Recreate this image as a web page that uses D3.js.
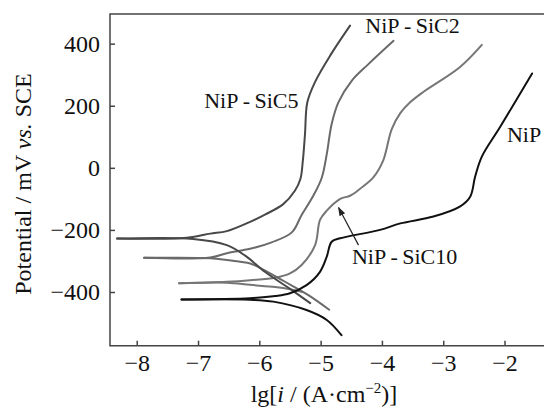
<!DOCTYPE html>
<html>
<head>
<meta charset="utf-8">
<script src="https://cdn.jsdelivr.net/npm/d3@7"></script>
<style>
  body { margin: 0; background: #fff; }
  svg { display: block; font-family: "Liberation Serif", "Times New Roman", serif; }
</style>
</head>
<body>
<svg id="chart"></svg>
<script>
// polarization curves, [lg i, E (mV)]
var nipAnodic = [[-7.27, -424], [-6.15, -420], [-5.74, -413], [-5.50, -404], [-5.23, -378], [-5.01, -335],
    [-4.90, -286], [-4.82, -238], [-4.68, -227], [-4.03, -200], [-3.70, -179], [-3.16, -157], [-2.73, -125],
    [-2.56, -93], [-2.48, -29], [-2.37, 36], [-2.07, 132], [-1.55, 304]]
var nipCathodic = [[-7.27, -424], [-6.15, -425], [-5.77, -431], [-5.23, -458], [-4.90, -490], [-4.66, -539]]

var sic5Anodic = [[-8.32, -228], [-7.18, -225], [-6.80, -212], [-6.53, -204], [-6.15, -174], [-5.90, -150],
    [-5.61, -117], [-5.42, -74], [-5.33, -36], [-5.29, 23], [-5.255, 109], [-5.217, 211], [-5.09, 277],
    [-4.84, 363], [-4.52, 458]]
var sic5Cathodic = [[-8.32, -228], [-7.08, -229], [-6.53, -249], [-6.23, -283], [-5.91, -335], [-5.47, -394],
    [-5.17, -436]]

var sic2Anodic = [[-7.88, -290], [-6.80, -289], [-6.53, -275], [-6.15, -261], [-5.80, -240], [-5.47, -208],
    [-5.31, -152], [-5.12, -90], [-4.98, -31], [-4.90, 44], [-4.82, 141], [-4.71, 211], [-4.49, 281],
    [-4.22, 334], [-3.81, 409]]
var sic2Cathodic = [[-7.88, -290], [-6.80, -291], [-6.53, -297], [-6.15, -308], [-6.02, -319], [-5.58, -367],
    [-5.20, -410], [-4.86, -457]]

var sic10Anodic = [[-7.31, -372], [-6.53, -367], [-6.15, -362], [-5.74, -354], [-5.50, -340], [-5.31, -313],
    [-5.09, -249], [-5.01, -168], [-4.90, -138], [-4.68, -100], [-4.52, -90], [-4.36, -68], [-4.14, -31],
    [-3.98, 23], [-3.84, 125], [-3.70, 176], [-3.54, 211], [-3.32, 245], [-2.73, 324], [-2.37, 396]]
var sic10Cathodic = [[-7.31, -372], [-6.53, -370], [-6.15, -377], [-5.74, -384], [-5.50, -391], [-5.30, -400]]

var xTicks = [-8, -7, -6, -5, -4, -3, -2]
var yTicks = [-400, -200, 0, 200, 400]

var series = [
    { name: "NiP-SiC10", branches: [sic10Anodic, sic10Cathodic], color: "#767676" },
    { name: "NiP-SiC2", branches: [sic2Anodic, sic2Cathodic], color: "#6a6a6a" },
    { name: "NiP-SiC5", branches: [sic5Anodic, sic5Cathodic], color: "#484848" },
    { name: "NiP", branches: [nipAnodic, nipCathodic], color: "#111111" }
]

var width = 544,
    height = 409
var plotLeft = 110, plotTop = 14, plotRight = 544, plotBottom = 345.7

var svg = d3.select("#chart").attr("width", width).attr("height", height)

var x = d3.scaleLinear().domain([-8.436, -1.356]).range([plotLeft, plotRight])
var y = d3.scaleLinear().domain([-573, 495.5]).range([plotBottom, plotTop])

// 曲线
var line = d3.line()
    .x(function (d) { return x(d[0]) })
    .y(function (d) { return y(d[1]) })
    .curve(d3.curveCatmullRom.alpha(0.5))

var g = svg.append("g")
series.forEach(function (s) {
    s.branches.forEach(function (b) {
        g.append("path")
            .attr("d", line(b))
            .attr("fill", "none")
            .attr("stroke", s.color)
            .attr("stroke-width", 2)
            .attr("stroke-linejoin", "round")
            .attr("stroke-linecap", "round")
    })
})

// 坐标轴 (ticks inside)
var xAxis = svg.append("g")
    .attr("transform", "translate(0," + plotBottom + ")")
    .call(d3.axisBottom(x).tickValues(xTicks).tickSize(-5).tickPadding(10).tickSizeOuter(0))
var yAxis = svg.append("g")
    .attr("transform", "translate(" + plotLeft + ",0)")
    .call(d3.axisLeft(y).tickValues(yTicks).tickSize(-5).tickPadding(10).tickSizeOuter(0))
;[xAxis, yAxis].forEach(function (a) {
    a.select(".domain").remove()
    a.selectAll("line").attr("stroke", "#444").attr("stroke-width", 1.5)
    a.selectAll("text").attr("font-size", 24).attr("fill", "#111")
        .attr("font-family", "Liberation Serif, Times New Roman, serif")
})
xAxis.selectAll("text").attr("dy", "0.71em").attr("y", 8)

// frame: left, top, bottom
svg.append("path")
    .attr("d", "M" + plotRight + "," + plotTop + "H" + plotLeft + "V" + plotBottom + "H" + plotRight)
    .attr("fill", "none")
    .attr("stroke", "#444")
    .attr("stroke-width", 1.5)

// axis titles
svg.append("text")
    .attr("transform", "translate(31,184) rotate(-90)")
    .attr("text-anchor", "middle")
    .attr("font-size", 24)
    .attr("fill", "#111")
    .html('Potential / mV <tspan font-style="italic">vs.</tspan> SCE')

svg.append("text")
    .attr("x", 324)
    .attr("y", 402)
    .attr("text-anchor", "middle")
    .attr("font-size", 24)
    .attr("fill", "#111")
    .html('lg[<tspan font-style="italic">i</tspan> / (A\u00b7cm<tspan dy="-9" font-size="15">\u22122</tspan><tspan dy="9">)]</tspan>')

// curve labels
var labels = [
    { text: "NiP\u2009-\u2009SiC5", at: [-6.90, 192] },
    { text: "NiP\u2009-\u2009SiC2", at: [-4.27, 434] },
    { text: "NiP", at: [-1.96, 84] },
    { text: "NiP\u2009-\u2009SiC10", at: [-4.49, -311] }
]
svg.selectAll(".lbl")
    .data(labels)
    .enter().append("text")
    .attr("class", "lbl")
    .attr("x", function (d) { return x(d.at[0]) })
    .attr("y", function (d) { return y(d.at[1]) })
    .attr("font-size", 22)
    .attr("fill", "#111")
    .text(function (d) { return d.text })

// arrow to NiP-SiC10
var arrowFrom = [-4.382, -249], arrowTo = [-4.708, -128]
svg.append("defs").append("marker")
    .attr("id", "ah")
    .attr("viewBox", "0 0 10 10")
    .attr("refX", 9).attr("refY", 5)
    .attr("markerWidth", 9).attr("markerHeight", 9)
    .attr("markerUnits", "userSpaceOnUse")
    .attr("orient", "auto")
    .append("path").attr("d", "M0,1.5L10,5L0,8.5Z").attr("fill", "#222")
svg.append("line")
    .attr("x1", x(arrowFrom[0])).attr("y1", y(arrowFrom[1]))
    .attr("x2", x(arrowTo[0])).attr("y2", y(arrowTo[1]))
    .attr("stroke", "#222")
    .attr("stroke-width", 1.2)
    .attr("marker-end", "url(#ah)")
</script>
</body>
</html>
